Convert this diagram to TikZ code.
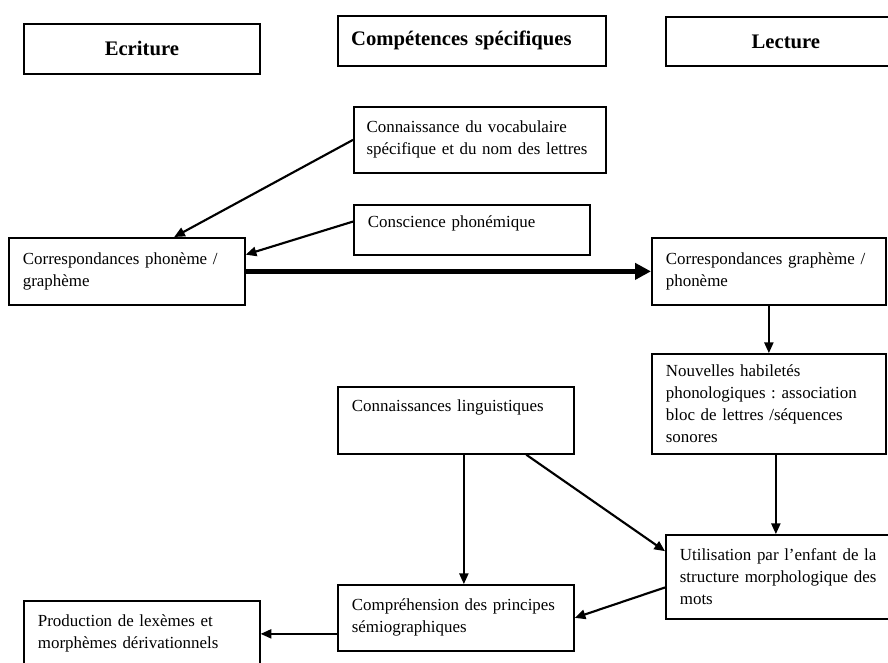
\documentclass[tikz,border=0pt]{standalone}
\usepackage{fontspec}
\setmainfont{Liberation Serif}
\usetikzlibrary{arrows.meta,calc}
\tikzset{
  head/.style    ={draw,line width=1.3pt,anchor=north west,inner sep=0pt,font=\fontsize{15.5}{18}\selectfont\bfseries},
  cell/.style    ={draw,line width=1.3pt,anchor=north west,inner xsep=10.5pt,inner ysep=3pt,align=left,font=\fontsize{12.7}{16.5}\selectfont\frenchspacing},
  vlink/.style   ={line width=1pt,-{Triangle[length=8pt,width=7pt]}},
  dlink/.style   ={line width=1.6pt,-{Triangle[length=8pt,width=7pt]}},
  mainlink/.style={line width=3.75pt,-{Triangle[length=12pt,width=12pt]}},
}
\begin{document}
\begin{tikzpicture}[x=0.75pt,y=-0.75pt]
  \useasboundingbox (0,0) rectangle (888,662);
  \clip (0,0) rectangle (888,662);
  % column heads
  \node[head,minimum width=177pt,minimum height=37.5pt] (ecr) at (23,23) {Ecriture};
  \node[head,minimum width=201pt,minimum height=37.5pt,inner xsep=10pt,text width=181pt,align=left] (comp) at (337,15) {Compétences spécifiques};
  \node[head,minimum width=180pt,minimum height=36.75pt] (lect) at (665,16) {Lecture};
  % competences
  \node[cell,text width=170pt,inner xsep=9.5pt,minimum height=49.5pt] (voc) at (353,106) {Connaissance du vocabulaire\\spécifique et du nom des lettres};
  \node[cell,text width=156pt,text height=14.25pt,text depth=17.25pt] (consc) at (353,204) {Conscience phonémique};
  \node[cell,text width=156pt,text height=15.75pt,text depth=28.5pt] (ling) at (337,386) {Connaissances linguistiques};
  \node[cell,text width=156pt,minimum height=49.5pt] (compr) at (337,584) {Compréhension des principes\\sémiographiques};
  % ecriture
  \node[cell,text width=156pt,minimum height=50.25pt] (corrpg) at (8,237) {Correspondances phonème /\\graphème};
  \node[cell,text width=156pt,minimum height=49.5pt] (prod) at (23,600) {Production de lexèmes et\\morphèmes dérivationnels};
  % lecture
  \node[cell,text width=154.5pt,minimum height=50.25pt] (corrgp) at (651,237) {Correspondances graphème /\\phonème};
  \node[cell,text width=154.5pt,minimum height=75pt] (nouv) at (651,353) {Nouvelles habiletés\\phonologiques : association\\bloc de lettres /séquences\\sonores};
  \node[cell,text width=159pt,minimum height=63pt] (util) at (665,534) {Utilisation par l’enfant de la\\structure morphologique des\\mots};
  % links
  \draw[dlink] (voc.west) -- (corrpg.36);
  \draw[dlink] (consc.176) -- (corrpg.8);
  \draw[mainlink] (corrpg.east) -- (corrgp.west);
  \draw[vlink] (corrgp.south) -- (corrgp.south |- nouv.north);
  \draw[vlink] ($(nouv.south)+(7,0)$) -- ($(nouv.south |- util.north)+(7,0)$);
  \draw[dlink] (ling.-26) -- (util.168);
  \draw[vlink] ($(ling.south)+(8,0)$) -- ($(ling.south |- compr.north)+(8,0)$);
  \draw[dlink] (util.185) -- (compr.east);
  \draw[vlink] (prod.east -| compr.west) -- (prod.east);
\end{tikzpicture}
\end{document}
